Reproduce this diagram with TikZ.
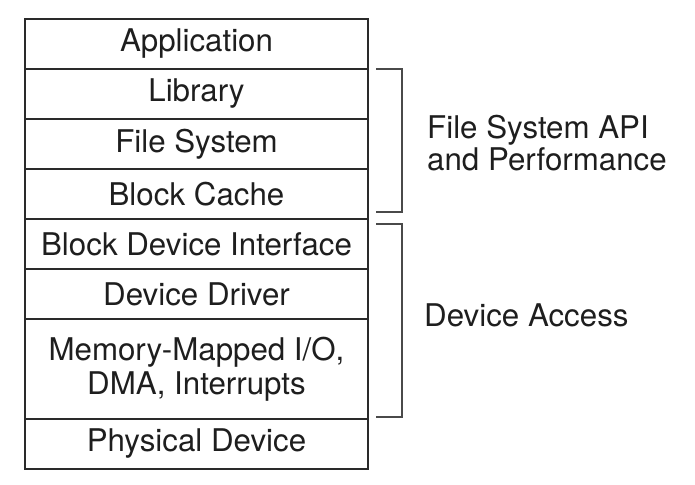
\documentclass[tikz,border=0pt]{standalone}
\usepackage{fontspec}
\setmainfont{TeX Gyre Heros}
\usepackage{tikz}
\usetikzlibrary{positioning,calc}
\definecolor{lyink}{HTML}{1E1E1E}
\definecolor{lyline}{HTML}{2A2A2A}
\definecolor{lybrack}{HTML}{4A4A4A}
\tikzset{
  layer/.style={draw=lyline, line width=1.1pt, align=center, text=lyink,
    minimum width=6.86cm, minimum height=1cm, inner sep=0pt, outer sep=0pt,
    font=\fontsize{17.8}{19.6}\selectfont},
  brack/.style={draw=lybrack, line width=0.9pt},
  side/.style={anchor=west, align=left, text=lyink,
    font=\fontsize{17.8}{18.6}\selectfont},
}
\begin{document}
\begin{tikzpicture}
        \useasboundingbox (0,0) rectangle (13.9,-9.7);
        \node[layer] (app) at (3.93,-0.88) {Application};
        \node[layer, below=0pt of app] (lib) {Library};
        \node[layer, below=0pt of lib] (fs) {File System};
        \node[layer, below=0pt of fs] (cache) {Block Cache};
        \node[layer, below=0pt of cache] (bdi) {Block Device Interface};
        \node[layer, below=0pt of bdi] (driver) {Device Driver};
        \node[layer, below=0pt of driver, minimum height=2cm] (mmio) {Memory-Mapped I/O,\\DMA, Interrupts};
        \node[layer, below=0pt of mmio] (phys) {Physical Device};
        \draw[lyline, line width=1.6pt] (app.north west) rectangle (phys.south east);
        % brackets on the right
        \coordinate (ftop) at ($(lib.north east)+(0.16,0)$);
        \coordinate (fbot) at ($(cache.south east)+(0.16,0.14)$);
        \coordinate (dtop) at ($(bdi.north east)+(0.16,-0.1)$);
        \coordinate (dbot) at ($(mmio.south east)+(0.16,0.04)$);
        \draw[brack] (ftop) -- ++(0.52,0) |- (fbot);
        \draw[brack] (dtop) -- ++(0.52,0) |- (dbot);
        \node[side] (fsapi) at ($(ftop)!0.5!(fbot)+(0.9,-0.05)$) {File System API\\and Performance};
        \node[side] (access) at ($(dtop)!0.5!(dbot)+(0.84,0.1)$) {Device Access};
      \end{tikzpicture}
\end{document}
